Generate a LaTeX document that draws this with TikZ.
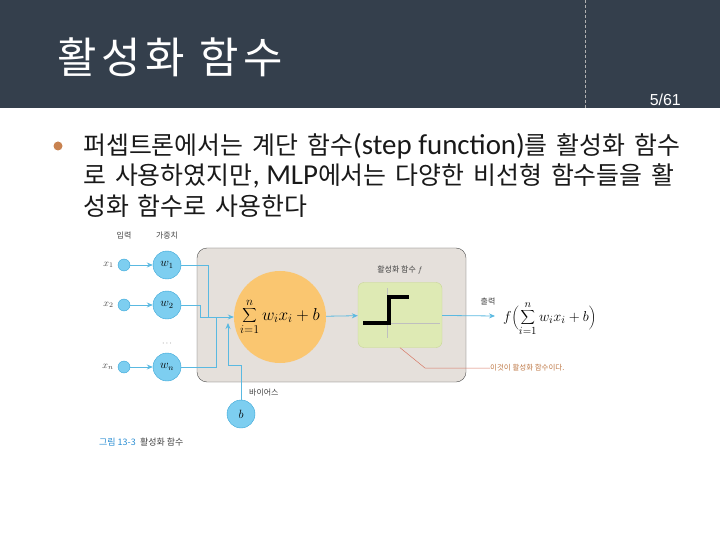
\documentclass[tikz,border=0pt]{standalone}
\usepackage{fontspec}
\setmainfont{Noto Sans CJK KR}
\newfontfamily\bodyfont{Noto Sans CJK KR}[WordSpace=1.6]
\newfontfamily\latinfont{Carlito}
\newfontfamily\numfont{Liberation Sans}
\usetikzlibrary{arrows.meta}
\usetikzlibrary{positioning}
\usetikzlibrary{calc}

\definecolor{headbg}{RGB}{52,63,76}
\definecolor{dotcol}{RGB}{200,130,80}
\definecolor{boxgray}{RGB}{229,224,219}
\definecolor{sumorange}{RGB}{250,198,112}
\definecolor{actgreen}{RGB}{222,234,180}
\definecolor{actedge}{RGB}{200,214,150}
\definecolor{nodeblue}{RGB}{125,206,240}
\definecolor{nodeedge}{RGB}{55,165,215}
\definecolor{wireblue}{RGB}{90,185,225}
\definecolor{notered}{RGB}{215,120,100}
\definecolor{notetext}{RGB}{190,120,70}
\definecolor{figblue}{RGB}{40,140,210}

\begin{document}
\begin{tikzpicture}[x=1bp,y=-1bp,>={Stealth[length=6bp,width=5bp]},node distance=43bp]
			\tikzstyle{inp}=[circle,draw=nodeedge,fill=nodeblue,minimum size=12bp,inner sep=0pt]
			\tikzstyle{wgt}=[circle,draw=nodeedge,fill=nodeblue,minimum size=28bp,inner sep=0pt,font=\fontsize{12}{13}\selectfont]
			\tikzstyle{wire}=[draw=wireblue,line width=0.8pt]
			\tikzstyle{lbl}=[inner sep=0pt,text=black!75,font=\fontsize{8}{9}\selectfont]
			\tikzstyle{xlbl}=[inner sep=0pt,text=black!75,font=\fontsize{10}{11}\selectfont]
			\tikzstyle{bodyline}=[anchor=west,inner sep=0pt,text=black!90,font=\bodyfont\fontsize{25}{29}\selectfont]
			\newcommand{\lat}[1]{{\latinfont\fontsize{29}{31}\selectfont #1}}
			
			\useasboundingbox (0,0) rectangle (720,540);
			\fill[headbg] (0,0) rectangle (720,108);
			\draw[black!30,densely dashed] (585,0) -- (585,108);
			\node[anchor=west,inner sep=0pt,text=white,font=\fontsize{43}{46}\selectfont\addfontfeature{LetterSpace=11}] (title) at (57,57) {활성화 함수};
			\node[anchor=east,inner sep=0pt,text=white,font=\numfont\fontsize{16}{18}\selectfont] (page) at (681,100) {5/61};
			
			\node[circle,fill=dotcol,minimum size=9bp,inner sep=0pt] (dot) at (58,146) {};
			\node[bodyline] (line1) at (83,146) {퍼셉트론에서는 계단 함수\lat{(step function)}를 활성화 함수};
			\node[bodyline] (line2) at (83,176) {로 사용하였지만\lat{, MLP}에서는 다양한 비선형 함수들을 활};
			\node[bodyline] (line3) at (83,206) {성화 함수로 사용한다};
			
			\node[draw=black!70,fill=boxgray,rounded corners=10bp,minimum width=269bp,minimum height=134bp] (frame) at (331.5,315) {};
			\node[circle,fill=sumorange,minimum size=92bp,inner sep=0pt,font=\fontsize{17}{19}\selectfont] (sum) at (280,317) {$\displaystyle\sum_{i=1}^{n} w_i x_i + b$};
			\node[draw=actedge,fill=actgreen,rounded corners=6bp,minimum width=84bp,minimum height=65bp] (act) at (400,315) {};
			\draw[black!25] (387,288) -- (387,338);
			\draw[black!25] (363,323) -- (440,323);
			\draw[line width=4bp] (363,323) -- (389,323) -- (389,297) -- (409,297);
			\node[lbl] (actlbl) at (400,270) {활성화 함수 $f$};
			
			\node[inp] (in1) at (124,265) {};
			\node[inp] (in2) at (124,305) {};
			\node[inp] (inn) at (124,367) {};
			\node[wgt] (w1) [right of=in1] {$w_1$};
			\node[wgt] (w2) [right of=in2] {$w_2$};
			\node[wgt] (wn) [right of=inn] {$w_n$};
			\node[lbl] (dots) [below=22bp of w2] {$\cdots$};
			\node[xlbl,anchor=east] (x1) [left=4bp of in1] {$x_1$};
			\node[xlbl,anchor=east] (x2) [left=4bp of in2] {$x_2$};
			\node[xlbl,anchor=east] (xn) [left=4bp of inn] {$x_n$};
			\node[lbl] (inlbl) at (124,236) {입력};
			\node[lbl] (wlbl) at (167,236) {가중치};
			
			\node[wgt] (b) at (241,414) {$b$};
			\node[lbl,anchor=west] (blbl) at (249,393) {바이어스};
			\node[lbl,anchor=west,font=\fontsize{9}{10}\selectfont] (cap) at (99,442) {{\color{figblue}그림 13-3}\enspace 활성화 함수};
			
			\node[anchor=west,inner sep=0pt,font=\fontsize{15}{17}\selectfont] (out) at (503,319) {$f\biggl(\displaystyle\sum_{i=1}^{n} w_i x_i + b\biggr)$};
			\node[lbl] (outlbl) at (488,301) {출력};
			\coordinate (outtip) at (495,316);
			
			\node[lbl,anchor=west,text=notetext,font=\fontsize{7.5}{8}\selectfont] (note) at (490,368) {이것이 활성화 함수이다.};
			\coordinate (elbow) at (425,368);
			
			\coordinate (j1) at (208,317);
			\coordinate (j2) at (200,317);
			\coordinate (jn) at (216,317);
			\coordinate (jb) at (228,365);
			\coordinate (btip) at (228,323);
			
			\foreach \i in {1,2,n}
				\draw[wire,->] (in\i) -- (w\i);
			\draw[wire] (w1) -| (j1);
			\draw[wire] (wn) -| (jn);
			\draw[wire,->] (w2) -| (j2) -- (sum);
			\draw[wire,->] (b) |- (jb) -- (btip);
			\draw[wire,->] (sum) -- (act);
			\draw[wire,->] (act) -- (outtip);
			\draw[notered,line width=0.5pt] (act.south) -- (elbow) -- (note.west);
\end{tikzpicture}
\end{document}
